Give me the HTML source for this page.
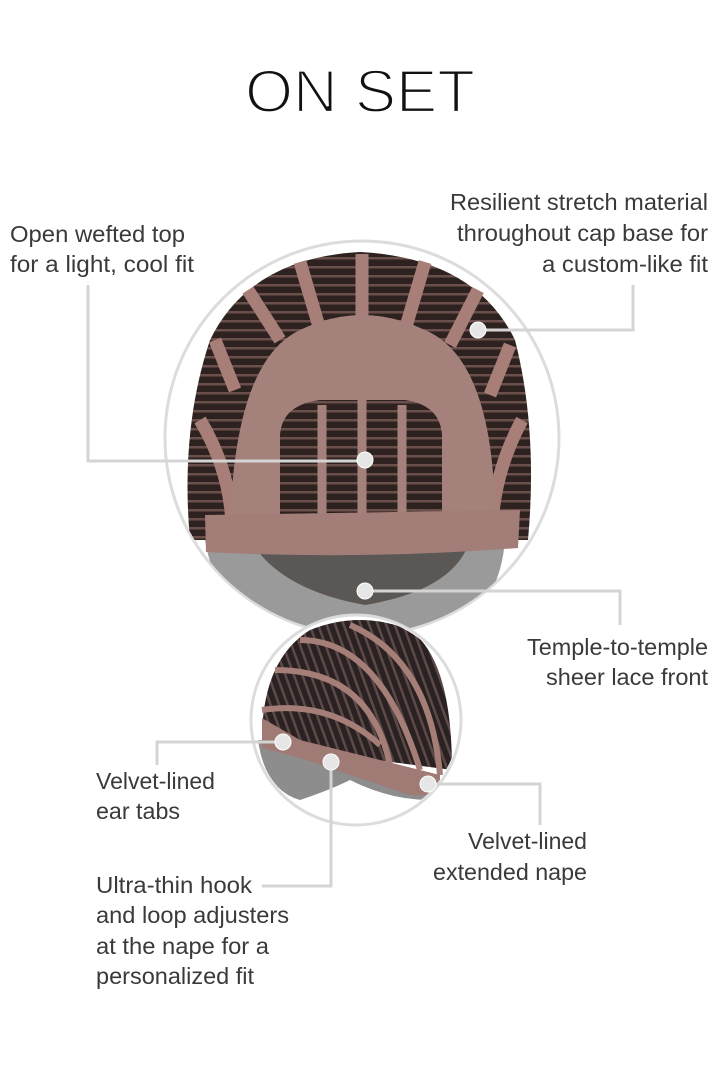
<!DOCTYPE html>
<html><head><meta charset="utf-8"><style>
html,body{margin:0;padding:0;background:#fff;}
svg{display:block;}
text{font-family:"Liberation Sans Narrow","Liberation Sans",sans-serif;fill:#3a3a3a;font-size:23px;}
</style></head><body>
<svg width="720" height="1080" viewBox="0 0 720 1080" xmlns="http://www.w3.org/2000/svg">
<defs>
<pattern id="weft" width="10" height="9" patternUnits="userSpaceOnUse">
<rect width="10" height="9" fill="#2e2220"/>
<rect y="5" width="10" height="2.5" fill="#6a4f4a"/>
</pattern>
<pattern id="weft2" width="8" height="10" patternUnits="userSpaceOnUse" patternTransform="rotate(-20)">
<rect width="8" height="10" fill="#2a2222"/>
<rect x="4" width="2.5" height="10" fill="#5d4a48"/>
</pattern>
<clipPath id="c1"><circle cx="362" cy="438" r="196"/></clipPath>
<clipPath id="c2"><circle cx="356" cy="720" r="103"/></clipPath>
</defs>
<rect width="720" height="1080" fill="#fff"/>
<text x="245" y="112" textLength="230" lengthAdjust="spacingAndGlyphs" style="font-family:'Liberation Sans',sans-serif;font-size:60px;fill:#111;stroke:#fff;stroke-width:2.2px">ON SET</text>

<!-- big circle -->
<circle cx="362" cy="438" r="197" fill="#fff" stroke="#dcdcdc" stroke-width="3"/>
<g clip-path="url(#c1)">
<path d="M205 540 Q215 600 260 625 Q360 645 460 625 Q500 600 505 540 Z" fill="#9a9a9a"/>
<path d="M250 540 L470 540 Q455 590 365 605 Q280 590 250 540Z" fill="#5a5754"/>
<path d="M190 540 Q180 430 210 340 Q250 258 360 252 Q475 258 515 340 Q538 430 528 540 Z" fill="url(#weft)"/>
<g stroke="#a87e78" stroke-width="13" fill="none">
<path d="M300 262 L320 330"/><path d="M362 254 L362 318"/><path d="M425 262 L405 330"/>
<path d="M248 290 L280 340"/><path d="M478 290 L450 345"/>
<path d="M215 340 L235 390"/><path d="M510 345 L490 395"/>
<path d="M200 420 Q230 470 232 525"/><path d="M522 420 Q495 470 492 525"/>
</g>
<path d="M230 525 Q235 360 300 330 Q362 300 425 330 Q495 360 495 525 Z" fill="#a5817c"/>
<path d="M280 520 L280 435 Q282 405 320 400 L405 400 Q440 405 442 435 L442 520 Z" fill="url(#weft)"/>
<g stroke="#a5817c" stroke-width="9">
<line x1="322" y1="405" x2="322" y2="545"/><line x1="362" y1="395" x2="362" y2="545"/><line x1="402" y1="405" x2="402" y2="545"/>
</g>
<path d="M205 515 L520 510 L518 548 Q362 560 206 552 Z" fill="#a37d77"/>
</g>

<!-- small circle -->
<circle cx="356" cy="720" r="105" fill="#fff" stroke="#dcdcdc" stroke-width="3"/>
<g clip-path="url(#c2)">
<path d="M258 740 Q265 790 300 800 Q330 790 350 780 Q390 800 430 800 L440 790 L270 740Z" fill="#8d8d8d"/>
<path d="M262 740 Q262 660 310 630 Q360 610 410 630 Q452 660 452 770 L262 745Z" fill="url(#weft2)"/>
<g stroke="#a57e78" stroke-width="6" fill="none">
<path d="M300 640 Q380 640 420 770"/><path d="M275 670 Q370 670 390 765"/><path d="M262 710 Q330 700 380 745"/><path d="M350 625 Q430 660 440 775"/>
</g>
<path d="M262 718 L300 740 L420 770 L440 775 L440 795 L410 795 L300 758 L262 748Z" fill="#a07a74"/>
</g>

<g stroke="#d4d4d4" stroke-width="3" fill="none">
<polyline points="88,285 88,461 365,461"/>
<polyline points="478,330 633,330 633,285"/>
<polyline points="365,591 620,591 620,625"/>
<polyline points="283,742 157,742 157,765"/>
<polyline points="331,762 331,886 262,886"/>
<polyline points="428,784 540,784 540,825"/>
</g>
<g fill="#e6e6e6" stroke="#fff" stroke-width="1">
<circle cx="365" cy="460" r="8"/><circle cx="478" cy="330" r="8"/><circle cx="365" cy="591" r="8"/>
<circle cx="283" cy="742" r="8"/><circle cx="331" cy="762" r="8"/><circle cx="428" cy="784" r="8"/>
</g>

<text x="10" y="242" textLength="175" lengthAdjust="spacingAndGlyphs">Open wefted top</text>
<text x="10" y="272" textLength="184" lengthAdjust="spacingAndGlyphs">for a light, cool fit</text>
<text x="450" y="210" textLength="258" lengthAdjust="spacingAndGlyphs">Resilient stretch material</text>
<text x="457" y="241" textLength="251" lengthAdjust="spacingAndGlyphs">throughout cap base for</text>
<text x="542" y="272" textLength="166" lengthAdjust="spacingAndGlyphs">a custom-like fit</text>
<text x="527" y="655" textLength="181" lengthAdjust="spacingAndGlyphs">Temple-to-temple</text>
<text x="546" y="685" textLength="162" lengthAdjust="spacingAndGlyphs">sheer lace front</text>
<text x="96" y="789" textLength="119" lengthAdjust="spacingAndGlyphs">Velvet-lined</text>
<text x="96" y="819" textLength="84" lengthAdjust="spacingAndGlyphs">ear tabs</text>
<text x="468" y="849" textLength="119" lengthAdjust="spacingAndGlyphs">Velvet-lined</text>
<text x="433" y="880" textLength="154" lengthAdjust="spacingAndGlyphs">extended nape</text>
<text x="96" y="893" textLength="156" lengthAdjust="spacingAndGlyphs">Ultra-thin hook</text>
<text x="96" y="923" textLength="193" lengthAdjust="spacingAndGlyphs">and loop adjusters</text>
<text x="96" y="954" textLength="173" lengthAdjust="spacingAndGlyphs">at the nape for a</text>
<text x="96" y="984" textLength="158" lengthAdjust="spacingAndGlyphs">personalized fit</text>
</svg>
</body></html>
